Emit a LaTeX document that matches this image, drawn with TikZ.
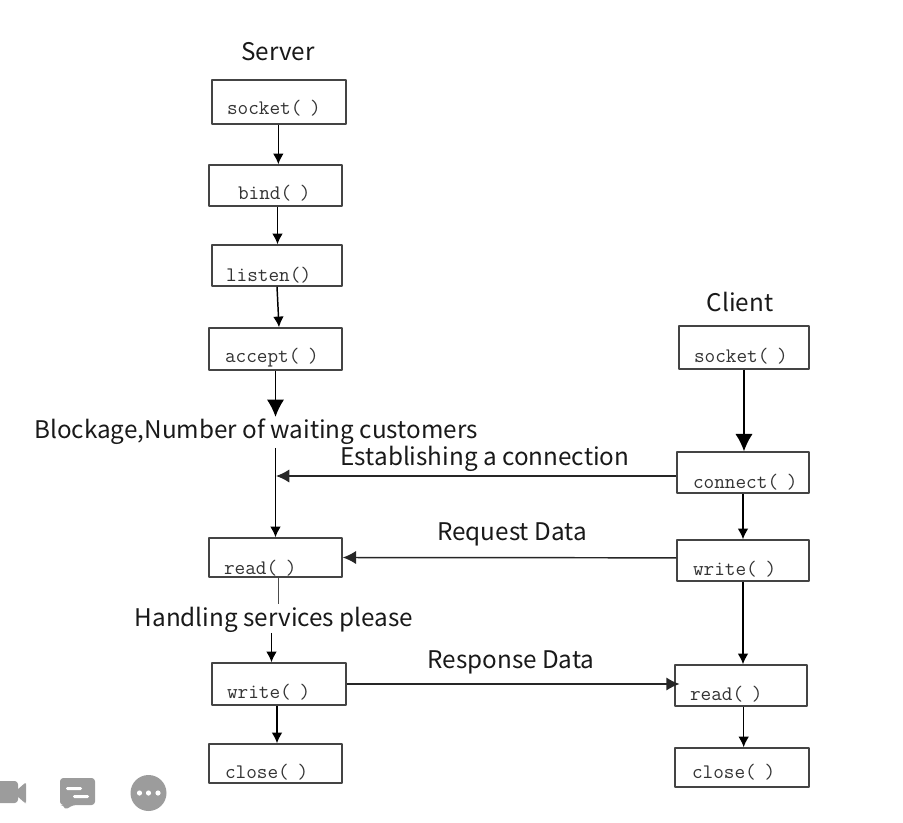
\documentclass[tikz,border=0pt]{standalone}
\usepackage{fontspec}
\setmainfont{Noto Sans CJK SC}
\usetikzlibrary{arrows.meta}
\definecolor{boxline}{HTML}{444444}
\definecolor{icongray}{HTML}{9C9C9C}
\newcommand{\callparens}{(\kern6.5pt)}
\begin{document}
\begin{tikzpicture}[x=0.75pt,y=-0.75pt,line join=round,
    callbox/.style={draw=boxline,line width=1.1pt,inner ysep=0pt,text depth=0pt,align=left,font=\ttfamily\fontsize{15.5}{15.5}\selectfont,text=black!80},
    caption/.style={inner sep=0pt,font=\fontsize{18.2}{20}\selectfont,text=black!90},
    smalltip/.style={line width=1.1pt,-{Latex[length=8pt,width=8pt]}},
    bigtip/.style={line width=1.1pt,-{Latex[length=13pt,width=13pt]}},
    sidetip/.style={line width=1.1pt,-{Latex[length=10pt,width=10pt]}}]
    \useasboundingbox(0,0)rectangle(903,823);
    % name/left/top/right/bottom/text offset/baseline/text
    \foreach \nm/\l/\t/\r/\b/\off/\base/\lab in {ssocket/212/80/346/124/15/115/socket\callparens,sbind/209/165/342/206/29/200/bind\callparens,slisten/212/245/342/286/14/282/listen(),saccept/209/328/342/370/16/363/accept\callparens,sread/209/538/342/577/15/574/read\callparens,swrite/212/663/346/705/15/698/write\callparens,sclose/209/744/342/783/16/778/close\callparens,csocket/679/326/809/369/15/363/socket\callparens,cconnect/677/452/809/493/16/488/connect\callparens,cwrite/677/540/809/581/16/575/write\callparens,cread/675/665/807/706/15/700/read\callparens,cclose/675/748/809/787/17/778/close\callparens}{%
      \pgfmathsetmacro\boxw{(\r-\l)*0.75}
      \pgfmathsetmacro\boxh{(\b-\t)*0.75}
      \pgfmathsetmacro\boxox{\off*0.75}
      \pgfmathsetmacro\boxtw{\boxw-2*\boxox}
      \pgfmathsetmacro\boxth{(2*\base-\t-\b)*0.75}
      \node[callbox,minimum width=\boxw pt,minimum height=\boxh pt,inner xsep=\boxox pt,text width=\boxtw pt,text height=\boxth pt](\nm)at({(\l+\r)/2},{(\t+\b)/2}){\lab};
    }
    % captions
    \node[caption](server)at(278,52){Server};
    \node[caption](client)at(740,302){Client};
    \node[caption](blockage)at(256,432){Blockage,Number of waiting customers};
    \node[caption](establish)at(485,459){Establishing a connection};
    \node[caption](request)at(512,534){Request Data};
    \node[caption](handling)at(274,620){Handling services please};
    \node[caption](response)at(511,662){Response Data};
    % server side
    \draw[smalltip]([xshift=-0.5pt]ssocket.south)--([xshift=-0.5pt]ssocket.south|-sbind.north);
    \draw[smalltip]([xshift=1.5pt]sbind.south)--([xshift=1.5pt]sbind.south|-slisten.north);
    \draw[smalltip]([xshift=0pt]slisten.south)--([xshift=1.5pt]slisten.south|-saccept.north);
    \draw[bigtip](saccept.south)--([yshift=1.5pt]saccept.south|-blockage.north);
    \draw[smalltip]([yshift=-2pt]saccept.south|-blockage.south)--(saccept.south|-sread.north);
    \draw[line width=0.6pt,color=black!70]([xshift=2pt]sread.south)--([xshift=2pt,yshift=2pt]sread.south|-handling.north);
    \draw[smalltip]([xshift=-3pt]handling.south-|sread.south)--([xshift=-3pt]sread.south|-swrite.north);
    \draw[smalltip]([xshift=-1.5pt]swrite.south)--([xshift=-1.5pt]swrite.south|-sclose.north);
    % client side
    \draw[bigtip](csocket.south)--(csocket.south|-cconnect.north);
    \draw[smalltip](cconnect.south)--(cconnect.south|-cwrite.north);
    \draw[smalltip](cwrite.south)--(cwrite.south|-cread.north);
    \draw[smalltip]([xshift=2pt]cread.south)--([xshift=2pt]cread.south|-cclose.north);
    % between the two
    \coordinate(join)at(276,476);
    \draw[sidetip,color=black!85](cconnect.west|-join)--(join);
    \draw[sidetip,color=black!85]([yshift=2pt]cwrite.west)--(sread.east);
    \draw[sidetip,color=black!85](swrite.east)--([xshift=4pt]swrite.east-|cread.west);
    % icons
    \begin{scope}[color=icongray,fill=icongray]
      \fill[rounded corners=2.5pt](-4,781)rectangle(18,803);
      \fill[rounded corners=1pt](17,790)--(25,783)--(26,783)--(26,803)--(25,803)--(17,796)--cycle;
      \fill[rounded corners=2.5pt](60,778)--(95,778)--(95,805)--(73,805)--(65,810)--(64,805)--(60,805)--cycle;
      \fill[white,rounded corners=1pt](66,787)rectangle(82,790);
      \fill[white,rounded corners=1pt](73,795)rectangle(89,798);
      \fill(148.5,793)circle(18);
      \foreach \x in {139.5,148.5,158}{%
        \fill[white](\x,793)circle(2.6);
      }
    \end{scope}
  \end{tikzpicture}
\end{document}
